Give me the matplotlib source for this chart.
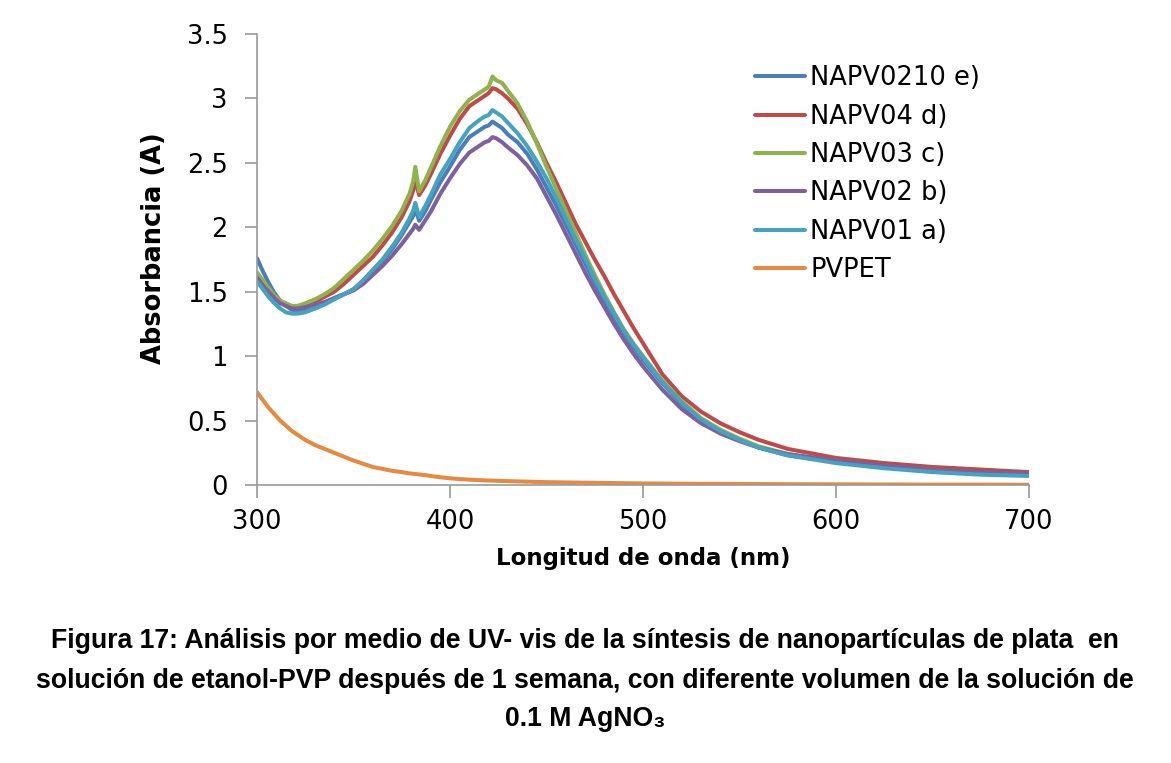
import matplotlib
matplotlib.use("Agg")
import matplotlib.pyplot as plt
from matplotlib import font_manager

wavelength = [300, 303, 306, 309, 312, 315, 318, 321, 325, 330,
              335, 340, 345, 350, 355, 360, 365, 370, 375, 379,
              381, 382, 384, 387, 390, 395, 400, 405, 410, 415,
              418, 420, 422, 424, 427, 430, 435, 440, 445, 450,
              455, 460, 465, 470, 475, 480, 485, 490, 495, 500,
              510, 520, 530, 540, 550, 560, 575, 600, 625, 650,
              675, 700]

napv0210_e = [1.76, 1.66, 1.57, 1.49, 1.43, 1.39, 1.36, 1.35, 1.35, 1.37,
              1.41, 1.45, 1.48, 1.52, 1.58, 1.66, 1.74, 1.83, 1.94, 2.04,
              2.09, 2.15, 2.05, 2.12, 2.21, 2.35, 2.47, 2.60, 2.70, 2.75,
              2.78, 2.79, 2.82, 2.80, 2.77, 2.72, 2.66, 2.57, 2.45, 2.31,
              2.17, 2.02, 1.87, 1.72, 1.57, 1.43, 1.30, 1.18, 1.07, 0.97,
              0.79, 0.63, 0.50, 0.41, 0.35, 0.29, 0.23, 0.18, 0.14, 0.11,
              0.09, 0.08]
napv04_d = [1.64, 1.58, 1.52, 1.47, 1.43, 1.40, 1.38, 1.38, 1.39, 1.42,
            1.46, 1.50, 1.56, 1.63, 1.70, 1.77, 1.86, 1.96, 2.08, 2.20,
            2.29, 2.37, 2.25, 2.32, 2.41, 2.57, 2.71, 2.84, 2.94, 2.99,
            3.02, 3.04, 3.08, 3.07, 3.04, 3.00, 2.92, 2.80, 2.66, 2.50,
            2.35, 2.19, 2.03, 1.89, 1.75, 1.62, 1.48, 1.35, 1.22, 1.10,
            0.86, 0.69, 0.57, 0.48, 0.41, 0.35, 0.28, 0.21, 0.17, 0.14,
            0.12, 0.10]
napv03_c = [1.65, 1.59, 1.53, 1.47, 1.43, 1.41, 1.39, 1.39, 1.41, 1.44,
            1.48, 1.53, 1.60, 1.67, 1.74, 1.82, 1.91, 2.01, 2.13, 2.26,
            2.36, 2.47, 2.28, 2.36, 2.46, 2.63, 2.78, 2.90, 2.99, 3.04,
            3.07, 3.09, 3.17, 3.14, 3.12, 3.06, 2.96, 2.82, 2.65, 2.47,
            2.30, 2.13, 1.96, 1.79, 1.63, 1.48, 1.34, 1.21, 1.10, 1.00,
            0.81, 0.65, 0.52, 0.43, 0.36, 0.30, 0.24, 0.18, 0.14, 0.11,
            0.09, 0.08]
napv02_b = [1.61, 1.55, 1.50, 1.45, 1.41, 1.39, 1.37, 1.37, 1.38, 1.40,
            1.42, 1.45, 1.48, 1.51, 1.56, 1.63, 1.70, 1.78, 1.87, 1.95,
            1.99, 2.02, 1.98, 2.05, 2.12, 2.26, 2.38, 2.49, 2.58, 2.63,
            2.66, 2.67, 2.70, 2.69, 2.66, 2.62, 2.56, 2.48, 2.38, 2.24,
            2.10, 1.95, 1.80, 1.65, 1.51, 1.38, 1.25, 1.13, 1.02, 0.92,
            0.74, 0.59, 0.48, 0.40, 0.34, 0.29, 0.24, 0.19, 0.15, 0.12,
            0.10, 0.09]
napv01_a = [1.58, 1.52, 1.46, 1.41, 1.37, 1.34, 1.33, 1.33, 1.34, 1.37,
            1.40, 1.44, 1.48, 1.52, 1.59, 1.67, 1.75, 1.85, 1.96, 2.07,
            2.13, 2.19, 2.08, 2.16, 2.25, 2.41, 2.53, 2.66, 2.77, 2.83,
            2.86, 2.87, 2.91, 2.89, 2.86, 2.81, 2.73, 2.63, 2.51, 2.38,
            2.23, 2.07, 1.91, 1.76, 1.60, 1.46, 1.33, 1.20, 1.09, 0.99,
            0.80, 0.64, 0.51, 0.42, 0.35, 0.29, 0.23, 0.17, 0.13, 0.10,
            0.08, 0.07]
pvpet = [0.72, 0.66, 0.60, 0.55, 0.50, 0.46, 0.42, 0.39, 0.35, 0.31,
         0.28, 0.25, 0.22, 0.19, 0.165, 0.14, 0.125, 0.11, 0.10, 0.09,
         0.087, 0.085, 0.082, 0.077, 0.07, 0.06, 0.052, 0.046, 0.042, 0.038,
         0.036, 0.035, 0.034, 0.033, 0.031, 0.03, 0.028, 0.026, 0.024, 0.022,
         0.021, 0.02, 0.019, 0.018, 0.017, 0.016, 0.015, 0.014, 0.013, 0.012,
         0.011, 0.01, 0.009, 0.009, 0.008, 0.007, 0.006, 0.005, 0.004, 0.003,
         0.003, 0.002]

series = [
    ("NAPV0210 e)", napv0210_e, "#4A7EBB"),
    ("NAPV04 d)", napv04_d, "#BE4B48"),
    ("NAPV03 c)", napv03_c, "#8FB24C"),
    ("NAPV02 b)", napv02_b, "#7D60A0"),
    ("NAPV01 a)", napv01_a, "#46A3BF"),
    ("PVPET", pvpet, "#E58A3E"),
]

caption = ["Figura 17: Análisis por medio de UV- vis de la síntesis de nanopartículas de plata  en",
           "solución de etanol-PVP después de 1 semana, con diferente volumen de la solución de",
           "0.1 M AgNO₃"]

plt.rcParams['font.family'] = ['DejaVu Sans']

fig = plt.figure(figsize=(11.71, 7.63), dpi=100)
ax = fig.add_axes([257 / 1171, 1 - 485 / 763, (1029 - 257) / 1171, (485 - 34) / 763])

for name, vals, col in series:
    ax.plot(wavelength, vals, color=col, lw=2.9, label=name, solid_capstyle='round',
            solid_joinstyle='round')

ax.set_xlim(300, 700)
ax.set_ylim(0, 3.5)
ax.set_xticks([300, 400, 500, 600, 700])
ax.set_yticks([0, 0.5, 1, 1.5, 2, 2.5, 3, 3.5])
ax.set_yticklabels(["0", "0.5", "1", "1.5", "2", "2.5", "3", "3.5"])
for s in ["top", "right"]:
    ax.spines[s].set_visible(False)
for s in ["left", "bottom"]:
    ax.spines[s].set_color("#9A9A9A")
    ax.spines[s].set_linewidth(1.2)
ax.tick_params(axis='both', colors="#9A9A9A", length=9, width=1.2, labelsize=18.5, labelcolor="black")
ax.tick_params(axis='y', pad=12)
ax.tick_params(axis='x', pad=8)

ax.set_ylabel("Absorbancia (A)", fontsize=18.5, fontweight='bold')
ax.yaxis.set_label_coords(-0.117, 0.525)
ax.set_xlabel("Longitud de onda (nm)", fontsize=16.5, fontweight='bold', labelpad=9)

leg = ax.legend(loc='upper left', bbox_to_anchor=(0.632, 0.953), frameon=False, fontsize=18.5,
                handlelength=1.95, handletextpad=0.2, labelspacing=0.48, borderaxespad=0)

names = {f.name for f in font_manager.fontManager.ttflist}
cap_font = 'Liberation Sans Narrow' if 'Liberation Sans Narrow' in names else 'Liberation Sans'

fig.canvas.draw()
renderer = fig.canvas.get_renderer()
ys = [641, 681, 719]
cap_texts = []
for line, y in zip(caption, ys):
    t = fig.text(585 / 1171, 1 - y / 763, line, ha='center', va='center', fontsize=18,
                 fontweight='bold', family=[cap_font, 'DejaVu Sans'])
    cap_texts.append(t)
# fit the long line to the reference width (~1102 px)
w = cap_texts[1].get_window_extent(renderer).width
scale = 1102 / w
for t in cap_texts:
    t.set_fontsize(18 * scale)

fig.savefig("out.png", dpi=100)
